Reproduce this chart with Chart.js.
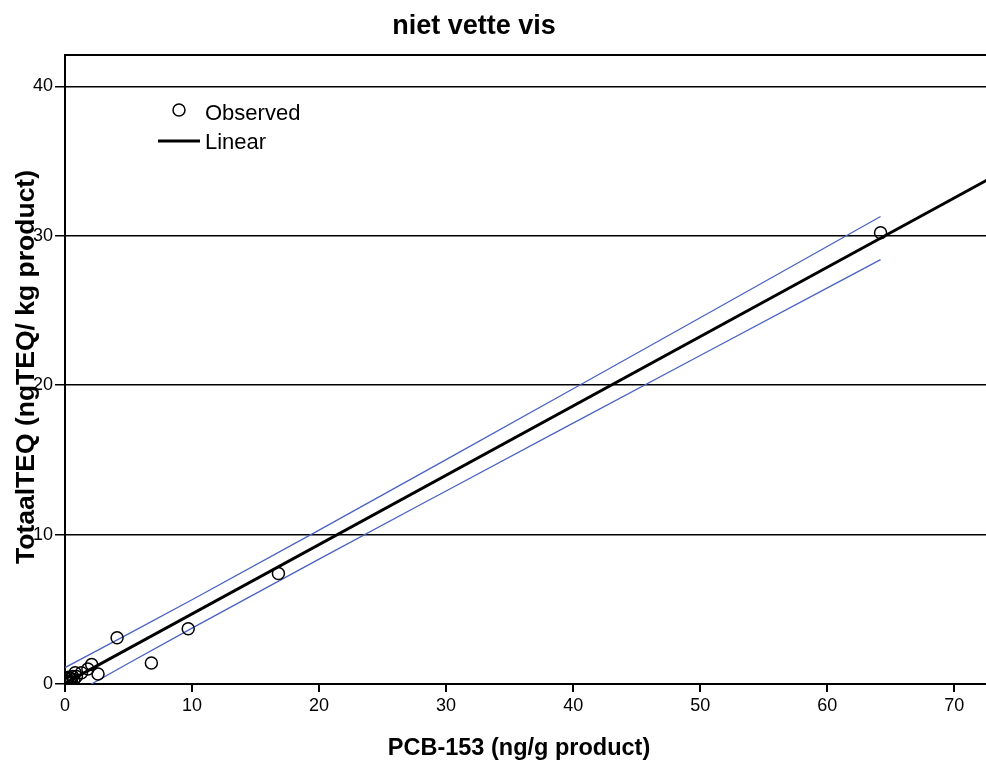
<!DOCTYPE html>
<html lang="en">
<head>
<meta charset="UTF-8">
<title>niet vette vis</title>
<script src="https://cdn.jsdelivr.net/npm/chart.js"></script>
<style>
    body { margin: 0; background: #ffffff; }
</style>
</head>
<body>
<canvas id="chart" width="986" height="762"></canvas>
<script>
const chartTitle = 'niet vette vis';
const xTitle = 'PCB-153 (ng/g product)';
const yTitle = 'TotaalTEQ (ngTEQ/ kg product)';
const xTicks = [0, 10, 20, 30, 40, 50, 60, 70];
const yTicks = [0, 10, 20, 30, 40];
const xMax = 72.5;
const yMax = 42.1;

// observed values
const obsX = [64.2, 16.8, 9.7, 4.1, 6.8, 2.6, 2.1, 1.8, 1.3, 0.8, 0.6, 0.4, 0.2, 0.1, 0.3, 0.7, 0.5, 0.15, 0.9];
const obsY = [30.2, 7.4, 3.7, 3.1, 1.4, 0.67, 1.3, 1.0, 0.75, 0.75, 0.5, 0.35, 0.2, 0.1, 0.45, 0.3, 0.15, 0.35, 0.5];

// linear fit
const fitX = [0, 80];
const fitY = [0.05, 37.17];

// 95% band for the mean
const bandX = [0, 5, 10, 20, 30, 40, 50, 64.2];
const bandUpper = [1.10, 3.35, 5.64, 10.30, 15.02, 19.76, 24.51, 31.29];
const bandLower = [-1.00, 1.39, 3.74, 8.36, 12.92, 17.46, 21.99, 28.40];

const toPts = (xs, ys) => xs.map((x, i) => ({ x: x, y: ys[i] }));

const bandColor = '#4a63c2';
const sans = '"Liberation Sans", Arial, sans-serif';

const decorations = {
    id: 'decorations',
    afterDraw(chart) {
        const ctx = chart.ctx;
        const a = chart.chartArea;
        ctx.save();
        // top frame
        ctx.strokeStyle = '#000';
        ctx.lineWidth = 2;
        ctx.beginPath();
        ctx.moveTo(a.left, a.top);
        ctx.lineTo(a.right, a.top);
        ctx.stroke();

        ctx.fillStyle = '#000';
        ctx.textAlign = 'center';
        ctx.textBaseline = 'middle';
        ctx.font = 'bold 27px ' + sans;
        ctx.fillText(chartTitle, 474, 27);

        ctx.font = 'bold 23.5px ' + sans;
        ctx.fillText(xTitle, 519, 749);

        ctx.save();
        ctx.translate(27, 367);
        ctx.rotate(-Math.PI / 2);
        ctx.font = 'bold 26.5px ' + sans;
        ctx.fillText(yTitle, 0, 0);
        ctx.restore();

        // legend
        const lx = a.left + 114;
        const ly = a.top + 55;
        ctx.lineWidth = 1.5;
        ctx.beginPath();
        ctx.arc(lx, ly, 6, 0, Math.PI * 2);
        ctx.stroke();
        ctx.lineWidth = 3;
        ctx.beginPath();
        ctx.moveTo(lx - 21, ly + 31);
        ctx.lineTo(lx + 21, ly + 31);
        ctx.stroke();
        ctx.font = '22px ' + sans;
        ctx.textAlign = 'left';
        ctx.fillText(chart.data.datasets[0].label, lx + 26, ly + 4);
        ctx.fillText(chart.data.datasets[1].label, lx + 26, ly + 33);
        ctx.restore();
    }
};

new Chart(document.getElementById('chart').getContext('2d'), {
    type: 'scatter',
    data: {
        datasets: [
            {
                label: 'Observed',
                data: toPts(obsX, obsY),
                pointRadius: 6,
                pointBorderWidth: 1.5,
                pointBorderColor: '#000',
                pointBackgroundColor: 'rgba(0,0,0,0)',
                order: 0
            },
            {
                label: 'Linear',
                data: toPts(fitX, fitY),
                showLine: true,
                borderColor: '#000',
                borderWidth: 3,
                pointRadius: 0,
                order: 1
            },
            {
                label: 'upper',
                data: toPts(bandX, bandUpper),
                showLine: true,
                borderColor: bandColor,
                borderWidth: 1.3,
                pointRadius: 0,
                cubicInterpolationMode: 'monotone',
                order: 2
            },
            {
                label: 'lower',
                data: toPts(bandX, bandLower),
                showLine: true,
                borderColor: bandColor,
                borderWidth: 1.3,
                pointRadius: 0,
                cubicInterpolationMode: 'monotone',
                order: 2
            }
        ]
    },
    options: {
        responsive: false,
        animation: false,
        layout: { autoPadding: false, padding: { top: 55, right: 0, left: 0, bottom: 0 } },
        plugins: {
            legend: { display: false },
            tooltip: { enabled: false }
        },
        scales: {
            x: {
                type: 'linear',
                min: 0,
                max: xMax,
                afterFit(scale) {
                    scale.height = 78;
                    scale.paddingLeft = 0;
                    scale.paddingRight = 0;
                },
                afterBuildTicks(scale) { scale.ticks = xTicks.map(v => ({ value: v })); },
                grid: { drawOnChartArea: false, drawTicks: true, tickLength: 8, color: '#000', lineWidth: 2 },
                border: { color: '#000', width: 2 },
                ticks: { color: '#000', padding: 3, font: { size: 18, family: sans } }
            },
            y: {
                type: 'linear',
                min: 0,
                max: yMax,
                afterFit(scale) {
                    scale.width = 65;
                    scale.paddingTop = 0;
                    scale.paddingBottom = 0;
                },
                afterBuildTicks(scale) { scale.ticks = yTicks.map(v => ({ value: v })); },
                grid: { color: '#000', lineWidth: 1.5, tickLength: 10 },
                border: { color: '#000', width: 2 },
                ticks: { color: '#000', padding: 2, font: { size: 18, family: sans } }
            }
        }
    },
    plugins: [decorations]
});
</script>
</body>
</html>
